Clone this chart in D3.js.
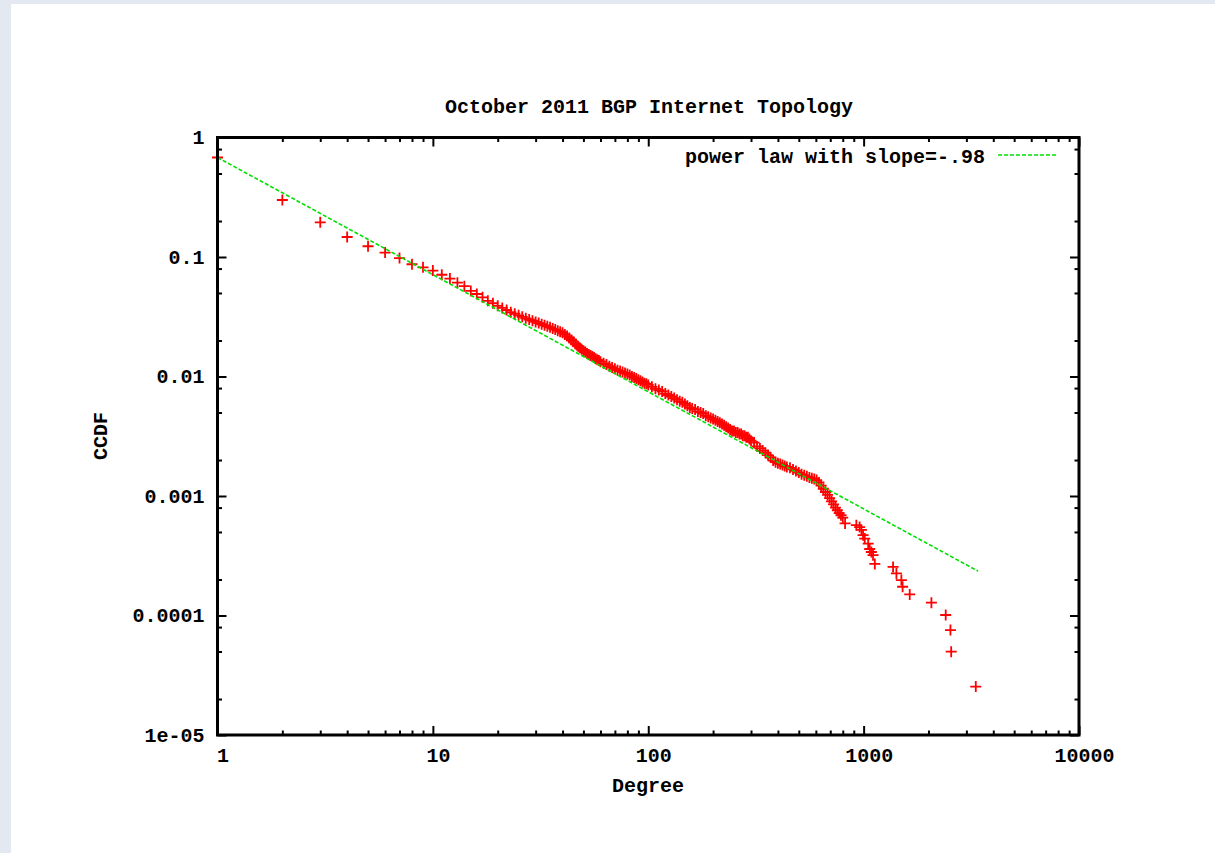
<!DOCTYPE html>
<html>
<head>
<meta charset="UTF-8">
<script src="https://cdn.jsdelivr.net/npm/d3@7"></script>
<style>
body{
  margin:0;
  background:#e4e9f1;
}
text{
  font-family:"Courier New", Courier, "Liberation Mono", monospace;
  font-weight:bold;
  font-size:20px;
  fill:#000;
}
</style>
</head>
<body>
<script>

// degree / CCDF values
var degree = [1, 2, 3, 4, 5, 6, 7, 8, 9, 10,
  11, 12, 13, 14, 15, 16, 17, 18, 19, 20,
  21, 22, 23, 24, 25, 26, 27, 28, 29, 30,
  31, 32, 33, 34, 35, 36, 37, 38, 39, 40,
  41, 42, 43, 44, 45, 46, 47, 48, 49, 50,
  51, 52, 53, 54, 55, 56, 57, 58, 59, 60,
  62, 64, 66, 68, 70, 72, 74, 76, 78, 80,
  82, 84, 86, 88, 90, 92, 94, 96, 98, 100,
  104, 108, 112, 116, 120, 124, 128, 132, 136, 140,
  144, 148, 152, 156, 160, 165, 170, 175, 180, 185,
  190, 195, 200, 205, 210, 215, 220, 225, 230, 235,
  240, 245, 250, 255, 260, 265, 270, 275, 280, 285,
  290, 295, 300, 310, 320, 330, 340, 350, 360, 370,
  380, 390, 400, 410, 420, 430, 440, 455, 470, 485,
  500, 515, 530, 545, 560, 575, 590, 605, 620, 635,
  650, 665, 680, 695, 710, 725, 740, 755, 770, 785,
  800, 820, 925, 958, 977, 994, 1012, 1050, 1067, 1086,
  1106, 1127, 1370, 1420, 1497, 1517, 1637, 2064, 2405, 2530,
  2550, 3317];

var ccdf = [0.68, 0.30, 0.195, 0.147, 0.123, 0.109, 0.098, 0.087, 0.082, 0.077,
  0.071, 0.066, 0.061, 0.057, 0.052, 0.049, 0.046, 0.043, 0.041, 0.039,
  0.0375, 0.036, 0.0345, 0.0335, 0.0325, 0.0316, 0.0307, 0.0300, 0.0293, 0.0286,
  0.0280, 0.0274, 0.0268, 0.0263, 0.0258, 0.0252, 0.0247, 0.0242, 0.0237, 0.0232,
  0.0225, 0.0218, 0.0210, 0.0202, 0.0195, 0.0187, 0.0180, 0.0174, 0.0169, 0.0164,
  0.0160, 0.0156, 0.0153, 0.0150, 0.0147, 0.0144, 0.0141, 0.0138, 0.0136, 0.0133,
  0.0129, 0.0126, 0.0122, 0.0119, 0.0116, 0.0113, 0.0111, 0.0109, 0.0107, 0.0105,
  0.0103, 0.0100, 0.0098, 0.0096, 0.0094, 0.0092, 0.0090, 0.0088, 0.0087, 0.0085,
  0.0082, 0.0079, 0.0077, 0.0075, 0.0072, 0.0070, 0.0068, 0.0066, 0.0064, 0.0062,
  0.0061, 0.0059, 0.0057, 0.0055, 0.0054, 0.0053, 0.0051, 0.0050, 0.0049, 0.0047,
  0.0046, 0.0045, 0.0044, 0.0043, 0.0042, 0.0041, 0.0040, 0.0039, 0.0038, 0.0037,
  0.0036, 0.0035, 0.0035, 0.0034, 0.0034, 0.0033, 0.0033, 0.0032, 0.0032, 0.0031,
  0.0031, 0.0030, 0.0029, 0.0028, 0.0026, 0.0025, 0.0024, 0.0023, 0.0022, 0.0021,
  0.00198, 0.00192, 0.00188, 0.00185, 0.00182, 0.00178, 0.00175, 0.00172, 0.00167, 0.00162,
  0.00157, 0.00152, 0.00149, 0.00146, 0.00143, 0.00141, 0.00139, 0.00136, 0.00130, 0.00122,
  0.00115, 0.00108, 0.00102, 0.00096, 0.00090, 0.00085, 0.00080, 0.00076, 0.00072, 0.00069,
  0.00066, 0.00059, 0.00057, 0.00055, 0.00052, 0.00047, 0.00044, 0.00040, 0.00036, 0.00034,
  0.00032, 0.00027, 0.000255, 0.000225, 0.000198, 0.000174, 0.000150, 0.000128, 0.000101, 0.0000755,
  0.0000498, 0.0000254];

// fitted power law, slope -.98
var fitDegree = [1, 3400];
var fitCcdf = [0.68, 0.000235];

var xTicks = [1, 10, 100, 1000, 10000];
var xTickLabels = ["1", "10", "100", "1000", "10000"];
var yTicks = [1, 0.1, 0.01, 0.001, 0.0001, 0.00001];
var yTickLabels = ["1", "0.1", "0.01", "0.001", "0.0001", "1e-05"];
var yMinorSteps = [2, 5, 8];

var title = "October 2011 BGP Internet Topology";
var legendLabel = "power law with slope=-.98";

var width = 1215;
var height = 853;
var plotLeft = 217.5, plotRight = 1079, plotTop = 137.5, plotBottom = 735;

var svg = d3.select('body')
    .append('svg')
    .attr('width', width)
    .attr('height', height)
    .style('display', 'block');

svg.append('rect')
    .attr('x', 11)
    .attr('y', 4)
    .attr('width', width - 11)
    .attr('height', height - 4)
    .attr('fill', '#fff');

var x = d3.scaleLog().domain([1, 10000]).range([plotLeft, plotRight]);
var y = d3.scaleLog().domain([0.00001, 1]).range([plotBottom, plotTop]);

var xMinor = x.ticks().filter(function(d) { return xTicks.indexOf(d) < 0; });
var yMinor = [];
yTicks.slice(1).forEach(function(t) {
    yMinorSteps.forEach(function(s) { yMinor.push(t * s); });
});

function tidy(g) {
    g.select('.domain').remove();
    g.selectAll('line').attr('stroke', '#000').attr('stroke-width', 2);
    g.attr('font-size', null).attr('font-family', null);
}

// major ticks, inward on all four sides
svg.append('g')
    .attr('transform', 'translate(0,' + plotBottom + ')')
    .call(d3.axisBottom(x).tickValues(xTicks)
        .tickFormat(function(d, i) { return xTickLabels[i]; })
        .tickSize(-9).tickSizeOuter(0).tickPadding(13))
    .call(tidy)
    .selectAll('text').attr('dx', 5);

svg.append('g')
    .attr('transform', 'translate(0,' + plotTop + ')')
    .call(d3.axisTop(x).tickValues(xTicks).tickFormat('').tickSize(-9).tickSizeOuter(0))
    .call(tidy);

svg.append('g')
    .attr('transform', 'translate(' + plotLeft + ',0)')
    .call(d3.axisLeft(y).tickValues(yTicks)
        .tickFormat(function(d, i) { return yTickLabels[i]; })
        .tickSize(-9).tickSizeOuter(0).tickPadding(13))
    .call(tidy);

svg.append('g')
    .attr('transform', 'translate(' + plotRight + ',0)')
    .call(d3.axisRight(y).tickValues(yTicks).tickFormat('').tickSize(-9).tickSizeOuter(0))
    .call(tidy);

// minor ticks
svg.append('g')
    .attr('transform', 'translate(0,' + plotBottom + ')')
    .call(d3.axisBottom(x).tickValues(xMinor).tickFormat('').tickSize(-4.5).tickSizeOuter(0))
    .call(tidy);
svg.append('g')
    .attr('transform', 'translate(0,' + plotTop + ')')
    .call(d3.axisTop(x).tickValues(xMinor).tickFormat('').tickSize(-4.5).tickSizeOuter(0))
    .call(tidy);
svg.append('g')
    .attr('transform', 'translate(' + plotLeft + ',0)')
    .call(d3.axisLeft(y).tickValues(yMinor).tickFormat('').tickSize(-4.5).tickSizeOuter(0))
    .call(tidy);
svg.append('g')
    .attr('transform', 'translate(' + plotRight + ',0)')
    .call(d3.axisRight(y).tickValues(yMinor).tickFormat('').tickSize(-4.5).tickSizeOuter(0))
    .call(tidy);

// data points
var points = degree.map(function(d, i) { return {degree: d, ccdf: ccdf[i]}; });

svg.append('g')
    .selectAll('path')
    .data(points)
    .enter().append('path')
    .attr('transform', function(d) { return 'translate(' + x(d.degree) + ',' + y(d.ccdf) + ')'; })
    .attr('d', 'M-5.5,0H5.5M0,-5.5V5.5')
    .attr('stroke', '#ff0000')
    .attr('stroke-width', 1.8)
    .attr('fill', 'none');

// power law line
var fit = fitDegree.map(function(d, i) { return {degree: d, ccdf: fitCcdf[i]}; });
var line = d3.line()
    .x(function(d) { return x(d.degree); })
    .y(function(d) { return y(d.ccdf); });

svg.append('path')
    .datum(fit)
    .attr('d', line)
    .attr('fill', 'none')
    .attr('stroke', '#00e000')
    .attr('stroke-width', 1.6)
    .attr('stroke-dasharray', '4,2');

// border
svg.append('rect')
    .attr('x', plotLeft)
    .attr('y', plotTop)
    .attr('width', plotRight - plotLeft)
    .attr('height', plotBottom - plotTop)
    .attr('fill', 'none')
    .attr('stroke', '#000')
    .attr('stroke-width', 3);

// legend
svg.append('text')
    .attr('x', 985)
    .attr('y', 163)
    .attr('text-anchor', 'end')
    .text(legendLabel);
svg.append('line')
    .attr('x1', 998).attr('x2', 1057)
    .attr('y1', 155).attr('y2', 155)
    .attr('stroke', '#00e000')
    .attr('stroke-width', 1.6)
    .attr('stroke-dasharray', '4,2');

// titles
svg.append('text')
    .attr('x', 649)
    .attr('y', 113)
    .attr('text-anchor', 'middle')
    .text(title);

svg.append('text')
    .attr('x', 648)
    .attr('y', 792)
    .attr('text-anchor', 'middle')
    .text('Degree');

svg.append('text')
    .attr('transform', 'translate(107,436) rotate(-90)')
    .attr('text-anchor', 'middle')
    .text('CCDF');

</script>
</body>
</html>
